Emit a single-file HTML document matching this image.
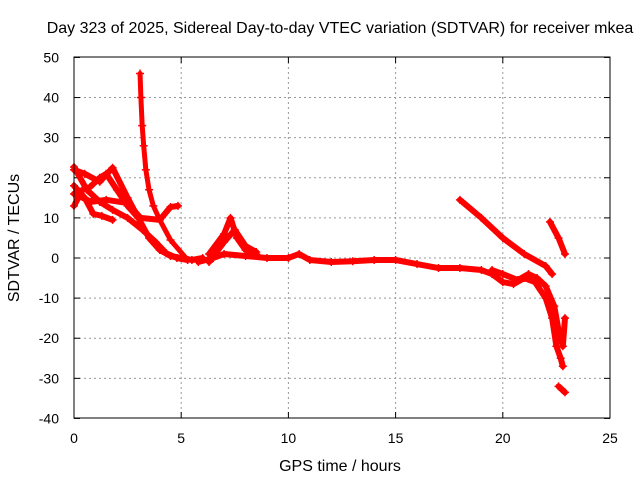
<!DOCTYPE html>
<html><head><meta charset="utf-8"><style>
body{margin:0;background:#fff}
svg{display:block;font-family:"Liberation Sans",sans-serif}
</style></head><body>
<svg id="chart" width="640" height="480">
<text x="340" y="33" text-anchor="middle" font-size="16">Day 323 of 2025, Sidereal Day-to-day VTEC variation (SDTVAR) for receiver mkea</text>
<text x="340" y="471" text-anchor="middle" font-size="16">GPS time / hours</text>
<text transform="translate(19,238) rotate(-90)" text-anchor="middle" font-size="16">SDTVAR / TECUs</text>
<g id="grid"></g>
<g id="ticks"></g>
<g id="marks"></g>
<rect x="74" y="57" width="536" height="361" fill="none" stroke="#000"/>
</svg>
<script>
const xTicks=[0,5,10,15,20,25];
const yTicks=[-40,-30,-20,-10,0,10,20,30,40,50];
const trackSpike=[[3.08,46],[3.12,40],[3.18,33],[3.25,28],[3.35,22],[3.5,17],[3.7,13],[4.0,9.5],[4.5,4.5],[5.3,-0.5]];
const trackUpper=[[0,22],[0.5,21],[1.2,19],[1.8,22.5],[2.5,15],[3,10],[3.5,5],[4,2],[4.5,0.5],[5,0],[5.5,-0.5],[6,0]];
const trackLower=[[0,16],[0.8,14],[1.5,14.5],[2.5,13.7],[3.1,10],[4,9.5],[4.5,12.7],[4.85,13]];
const trackSteep=[[0,22.7],[0.6,17],[1.2,14],[1.8,12],[2.5,10],[3.2,7],[3.8,4],[4.3,1.2],[4.8,0],[5.3,-0.5]];
const trackLeft=[[0,13],[0.4,17],[0.75,17.7],[1.2,20],[1.5,21],[2,17],[2.5,13],[3,10]];
const trackLeft2=[[0,18],[0.5,15],[0.9,11],[1.3,10.5],[1.8,9.5]];
const trackMain=[[5.8,-1],[6.5,0],[7,1],[8,0.5],[9,0],[10,0],[10.5,1],[11,-0.5],[12,-1],[13,-0.8],[14,-0.5],[15,-0.5],[16,-1.5],[17,-2.5],[18,-2.5],[19,-3],[19.5,-4],[20,-6],[20.5,-6.5],[21,-5],[21.5,-6],[22,-10],[22.3,-15],[22.5,-22],[22.7,-25],[22.8,-27]];
const trackMain2=[[19.5,-3],[20,-4],[20.7,-5.5],[21.2,-4],[21.6,-5],[22,-7],[22.4,-12],[22.6,-18],[22.8,-22],[22.9,-15]];
const trackBump=[[6.3,1],[7,6],[7.3,10],[7.6,5],[8,2],[8.5,1]];
const trackBump2=[[6.3,-1],[7,4],[7.5,7],[8,3],[8.5,1.5]];
const trackRight=[[18,14.5],[19,10],[20,5],[21,1],[22,-2],[22.3,-4]];
const trackRight2=[[22.2,9],[22.6,5],[22.9,1]];
const trackLow=[[22.6,-32],[22.9,-33.5]];
const tracks=[trackSpike,trackUpper,trackLower,trackSteep,trackLeft,trackLeft2,trackMain,trackMain2,trackBump,trackBump2,trackRight,trackRight2,trackLow];
const NS='http://www.w3.org/2000/svg';
const xs=h=>74+h*536/25, ys=v=>258-v*361/90;
const grid=document.getElementById('grid'),ticks=document.getElementById('ticks'),marks=document.getElementById('marks');
function mk(tag,attrs,parent){const e=document.createElementNS(NS,tag);for(const k in attrs)e.setAttribute(k,attrs[k]);parent.appendChild(e);return e;}
xTicks.forEach(t=>{const x=xs(t);
 if(t>0&&t<25){const g=mk('line',{x1:x,x2:x,y1:57,y2:418,stroke:'#999','stroke-dasharray':'2,3'},grid);
 
 }
 const l=mk('text',{x:x,y:443,'text-anchor':'middle','font-size':14},ticks);l.textContent=t;
 
 
 mk('line',{x1:x,x2:x,y1:418,y2:412,stroke:'#000'},ticks);mk('line',{x1:x,x2:x,y1:57,y2:63,stroke:'#000'},ticks);});
yTicks.forEach(t=>{const y=ys(t);
 if(t>-40&&t<50){const g=mk('line',{x1:74,x2:610,y1:y,y2:y,stroke:'#999','stroke-dasharray':'2,3'},grid);
 
 }
 const l=mk('text',{x:59,y:y+5,'text-anchor':'end','font-size':14},ticks);l.textContent=t;
 
 
 mk('line',{x1:74,x2:80,y1:y,y2:y,stroke:'#000'},ticks);mk('line',{x1:610,x2:604,y1:y,y2:y,stroke:'#000'},ticks);});
tracks.forEach((tr,i)=>{
 const p=mk('polyline',{points:tr.map(d=>xs(d[0])+','+ys(d[1])).join(' '),fill:'none',stroke:'#f00','stroke-width':i===0?5:6,'stroke-linejoin':'round','stroke-linecap':'round'},marks);
 
 
 tr.forEach(d=>{const x=xs(d[0]),y=ys(d[1]);
  const m=mk('path',{d:`M${x-4},${y}H${x+4}M${x},${y-4}V${y+4}`,stroke:'#f00','stroke-width':1.5},marks);
  
  });
});
</script>
</body></html>
